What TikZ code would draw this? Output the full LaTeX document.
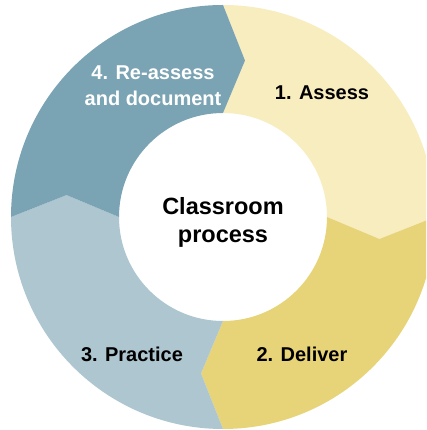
\documentclass[tikz,border=0pt]{standalone}
\usepackage{fontspec}
\setmainfont{Liberation Sans}
\usepackage{tikz}

\definecolor{assesscol}{RGB}{248,237,191}
\definecolor{delivercol}{RGB}{232,212,120}
\definecolor{practicecol}{RGB}{173,198,208}
\definecolor{reassesscol}{RGB}{122,163,180}

\tikzset{label text/.style={font=\bfseries\fontsize{20}{26}\selectfont, align=center}}

\begin{document}
\begin{tikzpicture}[x=1pt, y=1pt]
  \useasboundingbox (0,0) rectangle (426,430);
  \fill [white] (0,0) rectangle (426,430);
  \clip (0,0) rectangle (426,430);
  \begin{scope}[shift={(223,213)}]
    % ring segments, outer r 212, inner r 104, tips at r 158
    \fill [assesscol] (90:212) arc [start angle=90, end angle=0, radius=212]
      -- (-8:158) -- (0:104) arc [start angle=0, end angle=90, radius=104]
      -- (82:158) -- cycle;
    \fill [delivercol] (0:212) arc [start angle=0, end angle=-90, radius=212]
      -- (-98:158) -- (-90:104) arc [start angle=-90, end angle=0, radius=104]
      -- (-8:158) -- cycle;
    \fill [practicecol] (-90:212) arc [start angle=-90, end angle=-180, radius=212]
      -- (172:158) -- (180:104) arc [start angle=180, end angle=270, radius=104]
      -- (-98:158) -- cycle;
    \fill [reassesscol] (180:212) arc [start angle=180, end angle=90, radius=212]
      -- (82:158) -- (90:104) arc [start angle=90, end angle=180, radius=104]
      -- (172:158) -- cycle;
  \end{scope}
  \node [label text] (assess) at (322,337) {1. Assess};
  \node [label text] (deliver) at (302,76) {2. Deliver};
  \node [label text] (practice) at (132,76) {3. Practice};
  \node [label text, white] (reassess) at (153,344) {4. Re-assess\\and document};
  \node [label text, font=\bfseries\fontsize{23.5}{28}\selectfont] (centre) at (223,208) {Classroom\\process};
\end{tikzpicture}
\end{document}
